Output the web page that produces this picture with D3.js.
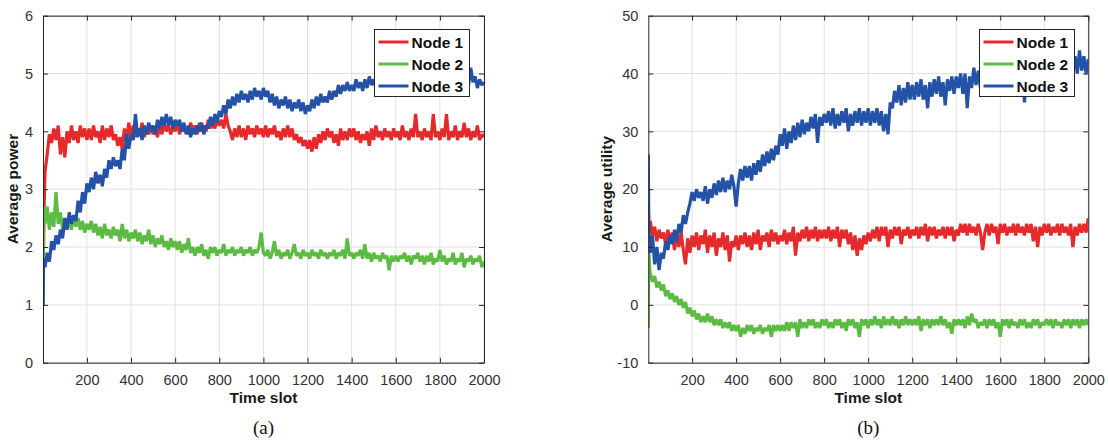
<!DOCTYPE html>
<html>
<head>
<meta charset="utf-8">
<script src="https://cdn.jsdelivr.net/npm/d3@7"></script>
<style>
  body { margin: 0; background: #fff; }
  #chart { width: 1108px; height: 444px; }
  text { font-family: Arial, "Liberation Sans", sans-serif; }
</style>
</head>
<body>
<div id="chart"></div>
<script>
// time slots: three early samples, then one every 10 slots
const slots = [1, 3, 6].concat(d3.range(10, 2001, 10));

const nodeNames = ["Node 1", "Node 2", "Node 3"];
const nodeColors = ["#e42a2a", "#5cbb42", "#2452a6"];

const xTicks = [200, 400, 600, 800, 1000, 1200, 1400, 1600, 1800, 2000];
const powerTicks = [0, 1, 2, 3, 4, 5, 6];
const utilityTicks = [-10, 0, 10, 20, 30, 40, 50];

// (a) average power, one row = 200 slots
const power1 = [1.0, 1.8, 2.7,
  3.3, 3.6, 3.95, 3.8, 4.05, 3.85, 4.1, 3.6, 3.9, 3.55, 4.0, 3.8, 4.1, 3.85, 4.0, 3.8, 4.1, 3.9, 4.05, 3.85,
  4.05, 3.85, 4.1, 3.9, 4.0, 3.8, 4.1, 3.85, 4.05, 3.9, 4.1, 3.85, 3.95, 3.75, 3.9, 3.7, 4.05, 3.85, 4.15, 3.9,
  4.1, 3.9, 4.05, 3.95, 4.15, 3.9, 4.05, 3.95, 4.1, 3.95, 4.05, 3.9, 4.1, 3.95, 4.15, 4.0, 4.1, 3.95, 4.1, 4.0,
  4.15, 3.95, 4.1, 4.0, 4.05, 3.95, 4.15, 4.0, 4.1, 3.95, 4.15, 4.0, 4.1, 4.0, 4.2, 4.05, 4.15, 4.05, 4.2, 4.1,
  4.2, 4.05, 4.3, 4.1, 4.0, 3.85, 4.05, 3.9, 4.1, 3.9, 4.05, 3.85, 4.1, 3.95, 4.05, 3.9, 4.1, 3.95, 4.05, 3.9,
  4.1, 3.9, 4.05, 3.95, 4.1, 3.9, 4.0, 3.85, 4.05, 3.9, 4.1, 3.9, 4.05, 3.85, 3.95, 3.8, 3.9, 3.75, 3.85, 3.7,
  3.85, 3.65, 3.9, 3.7, 3.95, 3.8, 4.0, 3.85, 4.05, 3.9, 4.0, 3.8, 3.95, 3.75, 4.05, 3.85, 4.0, 3.85, 4.05, 3.9,
  4.05, 3.85, 4.0, 3.8, 3.95, 3.85, 4.0, 3.75, 4.05, 3.85, 4.1, 3.9, 4.0, 3.85, 4.05, 3.9, 4.0, 3.85, 4.05, 3.9,
  4.0, 3.85, 4.1, 3.9, 4.0, 3.85, 4.05, 3.9, 4.3, 3.9, 4.0, 3.85, 4.05, 3.9, 4.0, 3.85, 4.3, 3.9, 4.0, 3.85,
  4.05, 3.9, 4.3, 3.85, 4.0, 3.9, 4.1, 3.85, 4.0, 3.9, 4.15, 3.9, 4.05, 3.85, 4.0, 3.9, 4.1, 3.85, 3.95, 3.9];
const power2 = [1.0, 2.2, 2.7,
  2.4, 2.7, 2.3, 2.6, 2.35, 2.95, 2.4, 2.6, 2.3, 2.5, 2.35, 2.45, 2.3, 2.55, 2.35, 2.5, 2.3, 2.45, 2.25, 2.4,
  2.3, 2.45, 2.25, 2.4, 2.2, 2.35, 2.15, 2.4, 2.2, 2.3, 2.15, 2.35, 2.2, 2.3, 2.1, 2.4, 2.15, 2.3, 2.1, 2.25,
  2.15, 2.3, 2.1, 2.25, 2.05, 2.2, 2.1, 2.3, 2.05, 2.2, 2.0, 2.15, 2.05, 2.2, 2.0, 2.1, 1.95, 2.15, 2.0, 2.1,
  1.95, 2.1, 1.9, 2.05, 1.95, 2.15, 1.9, 2.0, 1.85, 2.0, 1.9, 2.05, 1.85, 1.95, 1.8, 2.0, 1.9, 2.0, 1.85, 1.95,
  1.9, 2.05, 1.85, 1.95, 1.9, 2.0, 1.85, 1.95, 1.9, 2.0, 1.85, 1.95, 1.9, 2.0, 1.85, 1.95, 1.9, 2.0, 2.25, 1.9,
  1.85, 1.95, 1.8, 1.9, 2.1, 1.85, 1.95, 1.8, 1.9, 1.85, 1.95, 1.8, 1.9, 2.05, 1.85, 1.9, 1.8, 1.95, 1.85, 1.9,
  1.8, 1.95, 1.85, 1.9, 1.8, 1.95, 1.85, 1.9, 1.8, 1.9, 1.85, 1.95, 1.8, 1.9, 1.85, 1.95, 1.8, 2.15, 1.85, 1.9,
  1.8, 1.9, 1.85, 1.95, 1.8, 2.05, 1.8, 1.9, 1.75, 1.9, 1.8, 1.85, 1.75, 1.9, 1.8, 1.85, 1.6, 1.85, 1.75, 1.85,
  1.75, 1.85, 1.8, 1.9, 1.75, 1.85, 1.7, 1.85, 1.8, 1.9, 1.75, 1.85, 1.7, 1.85, 1.75, 1.9, 1.7, 1.8, 1.75, 1.95,
  1.75, 1.85, 1.7, 1.8, 1.75, 1.9, 1.7, 1.8, 1.75, 1.9, 1.65, 1.8, 1.75, 1.85, 1.7, 1.8, 1.75, 1.85, 1.65, 1.75];
const power3 = [1.0, 1.6, 1.8,
  1.65, 1.9, 1.75, 2.1, 1.95, 2.2, 2.05, 2.3, 2.15, 2.5, 2.3, 2.6, 2.4, 2.55, 2.45, 2.8, 2.6, 2.95, 2.75, 3.1,
  2.95, 3.2, 3.0, 3.3, 3.1, 3.25, 3.05, 3.35, 3.2, 3.5, 3.35, 3.55, 3.4, 3.5, 3.35, 3.7, 3.5, 3.95, 3.7, 3.95,
  3.85, 4.3, 3.9, 4.05, 3.85, 4.1, 3.95, 4.15, 4.0, 4.1, 3.95, 4.2, 4.05, 4.25, 4.1, 4.3, 4.1, 4.25, 4.05, 4.2,
  4.1, 4.2, 4.0, 4.15, 3.95, 4.1, 3.9, 4.05, 3.95, 4.1, 4.0, 4.15, 3.95, 4.1, 4.05, 4.25, 4.1, 4.3, 4.15, 4.35,
  4.25, 4.45, 4.3, 4.55, 4.4, 4.6, 4.45, 4.65, 4.5, 4.7, 4.55, 4.65, 4.5, 4.7, 4.55, 4.75, 4.6, 4.7, 4.55, 4.75,
  4.6, 4.7, 4.5, 4.65, 4.45, 4.6, 4.4, 4.55, 4.45, 4.6, 4.4, 4.55, 4.35, 4.5, 4.4, 4.55, 4.35, 4.5, 4.3, 4.45,
  4.35, 4.55, 4.4, 4.6, 4.45, 4.65, 4.5, 4.6, 4.5, 4.7, 4.55, 4.7, 4.6, 4.8, 4.65, 4.8, 4.7, 4.85, 4.7, 4.8,
  4.7, 4.9, 4.75, 4.85, 4.7, 4.9, 4.75, 4.95, 4.8, 4.9, 4.75, 4.9, 4.8, 4.95, 4.6, 4.9, 4.8, 4.95, 4.8, 4.9,
  4.8, 4.95, 4.8, 4.9, 4.75, 4.95, 4.8, 5.0, 4.85, 4.95, 4.8, 4.95, 4.85, 5.0, 4.8, 4.95, 4.85, 5.0, 4.8, 4.95,
  4.8, 4.95, 4.85, 5.0, 4.8, 4.95, 4.85, 5.0, 4.8, 4.95, 4.85, 5.0, 4.8, 5.1, 4.85, 4.95, 4.75, 4.9, 4.8, 4.85];

// (b) average utility, one row = 200 slots
const utility1 = [17.5, 14, 12.5,
  14.5, 12, 13.5, 11, 13, 11.5, 12.5, 10.5, 13, 11, 12.5, 9.5, 12, 10, 12.5, 9.5, 7, 11.5, 9, 12,
  10, 12.5, 9.5, 12, 10.5, 13, 9, 12, 10, 12.5, 8.5, 11.5, 10, 12.5, 9.5, 12, 7.5, 11, 10, 12,
  9.5, 12, 10.5, 12.5, 10, 12, 9.5, 12.5, 10.5, 13, 9.5, 12, 11, 12.5, 10, 13, 11, 12.5, 10.5, 12,
  11, 13, 10.5, 12.5, 11, 13.5, 8.5, 12.5, 11, 13, 11.5, 13.5, 11, 13, 11.5, 13.5, 11, 13, 11.5, 13,
  11.5, 13.5, 11, 13, 11.5, 13.5, 10, 13, 11.5, 13, 10.5, 12.5, 9.5, 12, 8.5, 11.5, 9.5, 12, 10.5, 12.5,
  11, 13, 11.5, 13.5, 11, 13.5, 12, 13.5, 10, 13, 11.5, 13.5, 12, 13.5, 10.5, 13, 12, 13.5, 11.5, 13,
  12, 13.5, 11.5, 13.5, 12, 14, 11, 13.5, 12, 13.5, 11.5, 13, 12, 13.5, 11.5, 13.5, 12, 13.5, 11, 13,
  12, 14, 12.5, 14, 12, 14, 12.5, 13.5, 12, 14, 12.5, 9.5, 12.5, 14, 12, 14, 12.5, 13.5, 10.5, 14,
  12.5, 14, 12, 13.5, 12.5, 14, 12, 14, 12.5, 13.5, 12, 14, 12.5, 14, 11, 13.5, 10, 13.5, 12, 14,
  12.5, 14, 12, 13.5, 12.5, 14, 12, 14, 12.5, 13.5, 12, 14, 10, 13.5, 12, 14, 12.5, 14, 12.5, 15];
const utility2 = [-4, 10, 7,
  5.5, 4, 5, 3, 4, 2.5, 3.5, 1.5, 2.5, 1, 2, 0.5, 1.5, 0, 1, -0.5, 0.5, -1.5, -0.5, -2,
  -1, -2.5, -1.5, -3, -2, -3, -1.5, -3, -2, -3.5, -2.5, -3.5, -2.5, -4, -3, -4, -3, -4.5, -3.5, -4.5,
  -3.5, -5.5, -4, -5, -3.5, -4.5, -3.5, -5, -4, -4.5, -3.5, -5, -4, -4.5, -3.5, -5.5, -3.5, -4.5, -3.5, -4.5,
  -3.5, -4.5, -3, -4.5, -3, -4, -3, -5.5, -2.5, -4, -3, -4, -2.5, -3.5, -2.5, -4, -3, -4, -2.5, -3.5,
  -2.5, -4, -3, -4, -2.5, -3.5, -2.5, -4, -3, -4.5, -2.5, -3.5, -2.5, -4, -3, -5.5, -2.5, -3.5, -2.5, -4,
  -2.5, -3.5, -2, -3.5, -2.5, -4, -2, -3.5, -2.5, -3.5, -2, -3.5, -2.5, -4, -2.5, -3.5, -2, -3.5, -2.5, -3.5,
  -2.5, -3.5, -2, -4.5, -2.5, -3.5, -2.5, -4, -2.5, -3.5, -2.5, -3.5, -2, -3.5, -2.5, -4, -3, -5, -2.5, -3.5,
  -2.5, -3.5, -2.5, -4, -2, -3.5, -1.5, -3, -2.5, -4, -3, -3.5, -2.5, -4, -2.5, -3.5, -2.5, -4, -3, -5.5,
  -2.5, -3.5, -2.5, -4, -2.5, -3.5, -3, -4, -2.5, -3.5, -2.5, -4, -3, -4, -2.5, -3.5, -2.5, -4, -3, -3.5,
  -2.5, -3.5, -2.5, -4, -2.5, -3.5, -3, -4, -2.5, -3.5, -2.5, -4, -2.5, -3.5, -2.5, -4, -2.5, -3.5, -2.5, -3.5];
const utility3 = [26, 14, 10.5,
  9, 12, 7, 10, 6, 9, 8, 11, 9.5, 12, 10.5, 13, 11, 14, 12.5, 15.5, 14, 16, 17.5, 19.5,
  18, 20, 18.5, 19.5, 18, 20.5, 17.5, 20, 18.5, 21, 19, 21.5, 19.5, 22, 19.5, 21.5, 20, 22.5, 20.5, 17,
  21, 23.5, 21.5, 24, 22, 24, 21.5, 24.5, 22.5, 25, 23, 26, 24, 26.5, 24.5, 27, 25, 27.5, 26, 29.5,
  27.5, 30.5, 27, 30, 28, 31, 28.5, 31.5, 29, 32, 29.5, 31.5, 30, 32.5, 30.5, 33, 28, 32.5, 31, 33,
  31.5, 33.5, 31, 34, 30.5, 33, 31, 33.5, 31.5, 34, 30, 33, 31, 33.5, 31.5, 34, 31, 33.5, 31.5, 34,
  31, 33.5, 31.5, 34, 31, 33.5, 30, 33, 29.5, 35, 34, 37, 35, 38, 34.5, 37.5, 35, 38.5, 35.5, 38,
  35.5, 38.5, 36, 39, 35.5, 38, 34, 38.5, 36, 39, 36.5, 39.5, 36, 38.5, 34.5, 39, 37, 39.5, 36.5, 39.5,
  37.5, 40, 36.5, 40, 34, 39.5, 37.5, 41, 38, 40.5, 37.5, 41, 38.5, 40.5, 38, 41, 37, 40.5, 38.5, 41,
  38, 41, 38.5, 41.5, 38, 41, 38.5, 41.5, 36, 40.5, 35, 40, 38.5, 41.5, 39, 42, 38.5, 41.5, 39, 42,
  39.5, 42, 39, 42.5, 39.5, 42, 40, 42.5, 39.5, 43, 40, 43.5, 40.5, 43, 40, 44, 40.5, 43, 40, 42.5];

const svg = d3.select("#chart").append("svg")
  .attr("width", 1108)
  .attr("height", 444);

function drawPanel(opt) {
  const x = d3.scaleLinear().domain([1, 2000]).range([opt.left, opt.right]);
  const y = d3.scaleLinear().domain(opt.yDomain).range([362.7, 15.7]);
  const g = svg.append("g");

  // grid
  g.selectAll(".gx").data(xTicks).enter().append("line")
    .attr("x1", d => x(d)).attr("x2", d => x(d))
    .attr("y1", y.range()[0]).attr("y2", y.range()[1])
    .attr("stroke", "#e1e1e1").attr("stroke-width", 1);
  g.selectAll(".gy").data(opt.yTicks).enter().append("line")
    .attr("x1", opt.left).attr("x2", opt.right)
    .attr("y1", d => y(d)).attr("y2", d => y(d))
    .attr("stroke", "#e1e1e1").attr("stroke-width", 1);

  // lines
  const clipId = "clip" + opt.id;
  svg.append("clipPath").attr("id", clipId).append("rect")
    .attr("x", opt.left).attr("y", 15.7)
    .attr("width", opt.right - opt.left).attr("height", 362.7 - 15.7);

  const line = d3.line()
    .x((d, i) => x(slots[i]))
    .y(d => y(d));

  opt.series.forEach((s, i) => {
    g.append("path")
      .datum(s)
      .attr("clip-path", `url(#${clipId})`)
      .attr("d", line)
      .attr("fill", "none")
      .attr("stroke", nodeColors[i])
      .attr("stroke-width", 3.2)
      .attr("stroke-linejoin", "miter")
      .attr("stroke-miterlimit", 2);
  });

  // axes (ticks pointing inward like MATLAB)
  const axisColor = "#262626";
  const fmt = d => String(d);
  const bottom = g.append("g")
    .attr("transform", `translate(0,${y.range()[0]})`)
    .call(d3.axisBottom(x).tickValues(xTicks).tickFormat(fmt).tickSizeInner(-5).tickSizeOuter(0).tickPadding(12));
  const leftAx = g.append("g")
    .attr("transform", `translate(${opt.left},0)`)
    .call(d3.axisLeft(y).tickValues(opt.yTicks).tickFormat(fmt).tickSizeInner(-5).tickSizeOuter(0).tickPadding(10));
  g.append("g")
    .attr("transform", `translate(0,${y.range()[1]})`)
    .call(d3.axisTop(x).tickValues(xTicks).tickSizeInner(-5).tickSizeOuter(0).tickFormat(""));
  g.append("g")
    .attr("transform", `translate(${opt.right},0)`)
    .call(d3.axisRight(y).tickValues(opt.yTicks).tickSizeInner(-5).tickSizeOuter(0).tickFormat(""));

  g.selectAll(".domain").attr("stroke", axisColor);
  g.selectAll(".tick line").attr("stroke", axisColor);
  [bottom, leftAx].forEach(a => a.selectAll("text")
    .attr("fill", "#333")
    .style("font-size", "14.5px"));

  // axis titles
  g.append("text")
    .attr("x", (opt.left + opt.right) / 2)
    .attr("y", 403)
    .attr("text-anchor", "middle")
    .style("font-size", "15.5px")
    .style("font-weight", "bold")
    .attr("fill", "#1a1a1a")
    .text("Time slot");

  g.append("text")
    .attr("transform", `translate(${opt.yTitleX},189) rotate(-90)`)
    .attr("text-anchor", "middle")
    .style("font-size", "15.5px")
    .style("font-weight", "bold")
    .attr("fill", "#1a1a1a")
    .text(opt.yTitle);

  // panel caption
  g.append("text")
    .attr("x", (opt.left + opt.right) / 2)
    .attr("y", 434)
    .attr("text-anchor", "middle")
    .style("font-family", "'Liberation Serif', 'DejaVu Serif', serif")
    .style("font-size", "19px")
    .attr("fill", "#111")
    .text(opt.caption);

  // legend
  const lg = g.append("g").attr("transform", `translate(${opt.legendX},29.5)`);
  lg.append("rect")
    .attr("width", 95).attr("height", 67)
    .attr("fill", "#fff")
    .attr("stroke", "#262626").attr("stroke-width", 1);
  nodeNames.forEach((name, i) => {
    const row = lg.append("g").attr("transform", `translate(0,${12.5 + i * 22})`);
    row.append("line")
      .attr("x1", 4).attr("x2", 34)
      .attr("stroke", nodeColors[i]).attr("stroke-width", 3);
    row.append("text")
      .attr("x", 37).attr("y", 5.5)
      .style("font-size", "15.5px")
      .style("font-weight", "bold")
      .attr("fill", "#111")
      .text(name);
  });
}

drawPanel({
  id: "a", left: 43, right: 484,
  yDomain: [0, 6], yTicks: powerTicks,
  series: [power1, power2, power3],
  yTitle: "Average power", yTitleX: 18,
  caption: "(a)", legendX: 374.5
});

drawPanel({
  id: "b", left: 648.3, right: 1088.3,
  yDomain: [-10, 50], yTicks: utilityTicks,
  series: [utility1, utility2, utility3],
  yTitle: "Average utility", yTitleX: 612,
  caption: "(b)", legendX: 979.5
});
</script>
</body>
</html>
